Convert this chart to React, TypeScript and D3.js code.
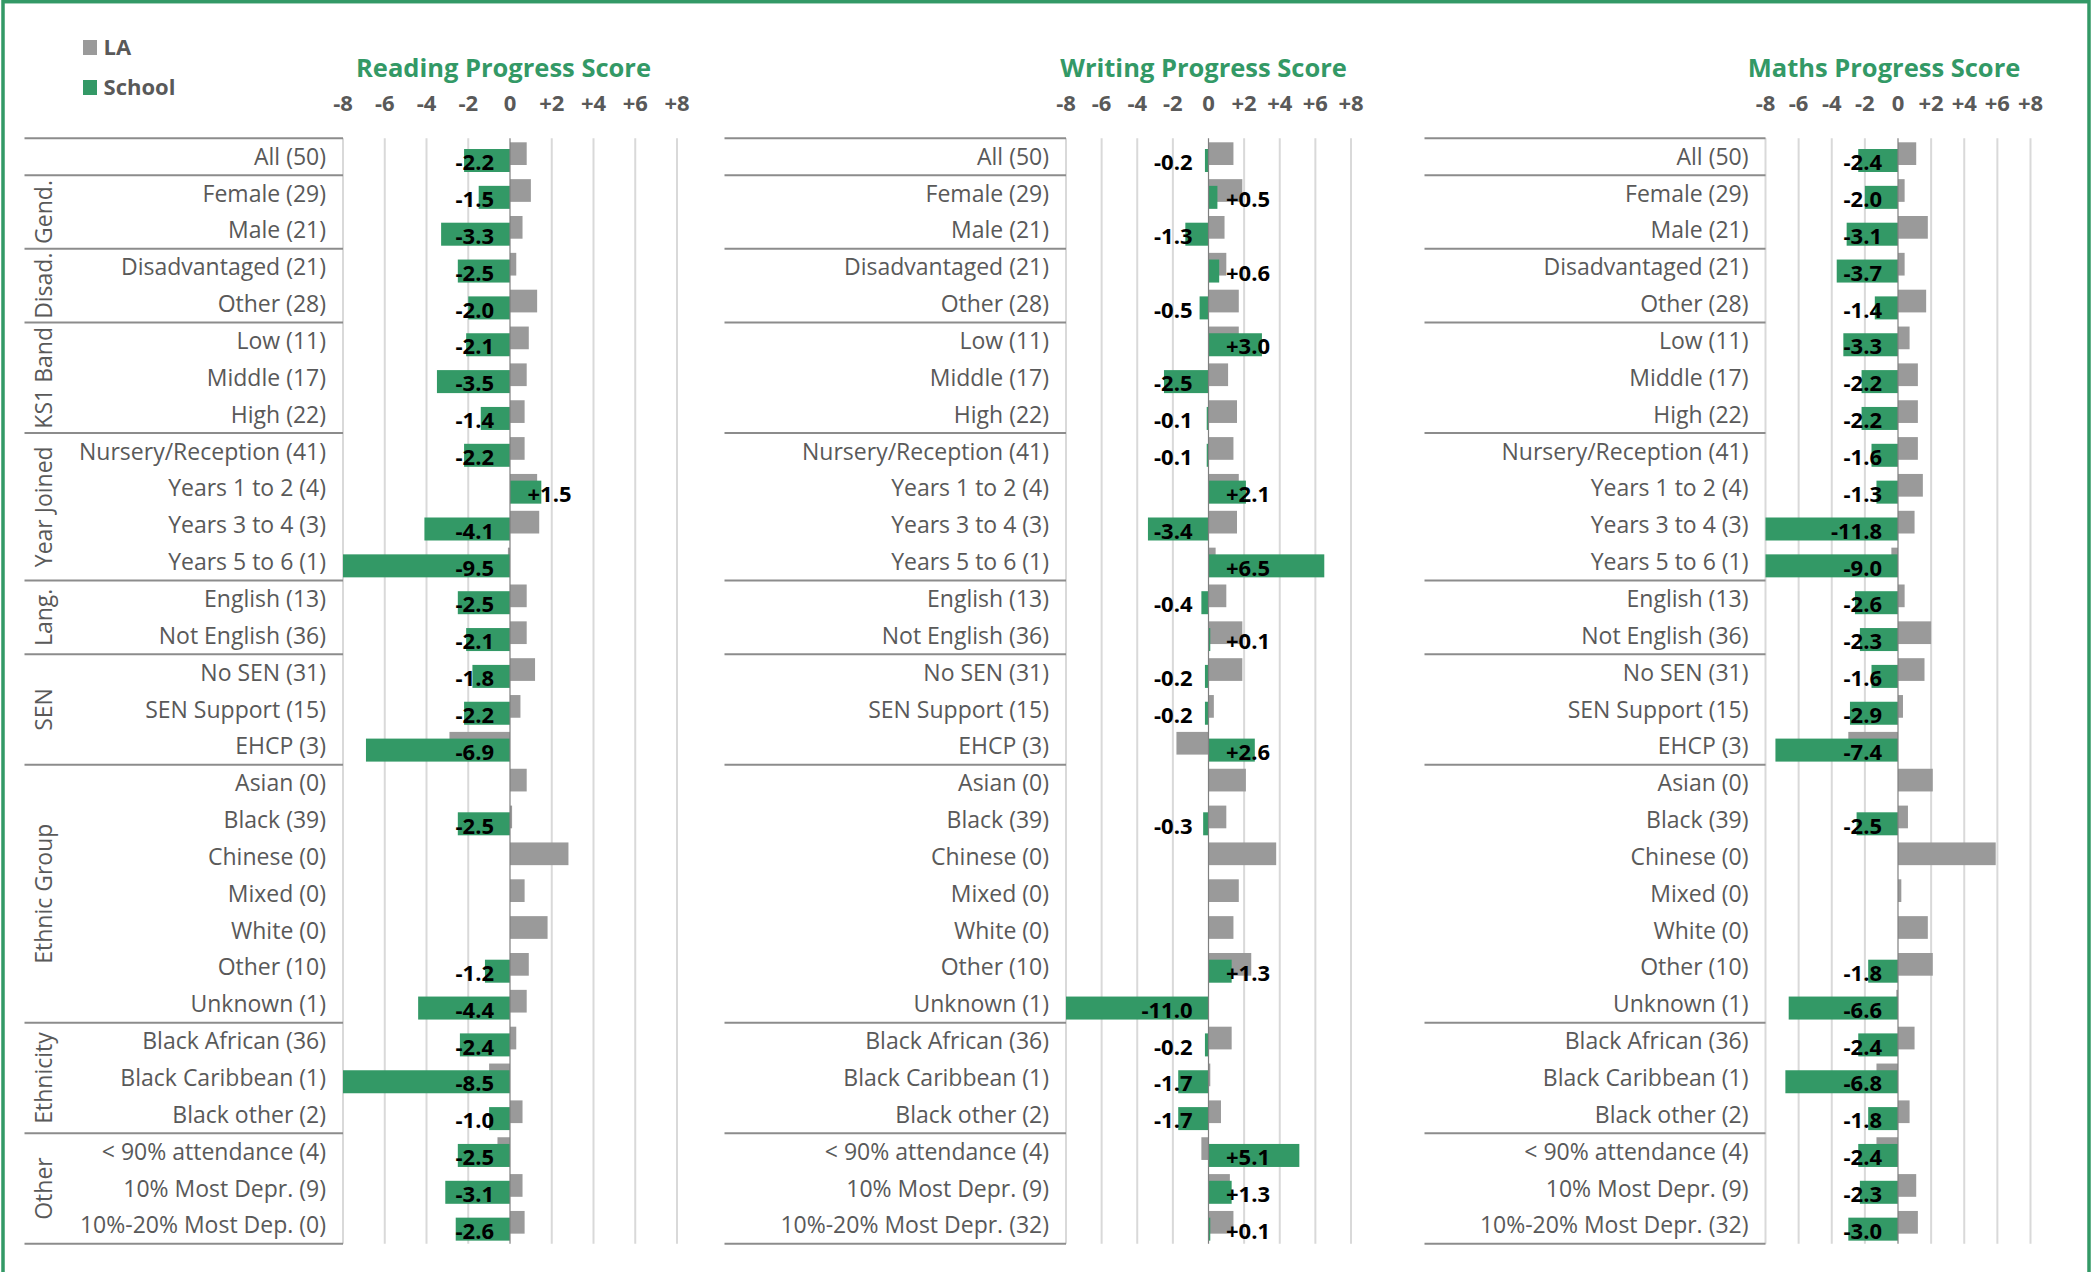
import React from "react";
import * as d3 from "d3";

// ---------- DATA ----------
const categoriesReading = [
  "All (50)", "Female (29)", "Male (21)", "Disadvantaged (21)", "Other (28)",
  "Low (11)", "Middle (17)", "High (22)", "Nursery/Reception (41)", "Years 1 to 2 (4)",
  "Years 3 to 4 (3)", "Years 5 to 6 (1)", "English (13)", "Not English (36)", "No SEN (31)",
  "SEN Support (15)", "EHCP (3)", "Asian (0)", "Black (39)", "Chinese (0)",
  "Mixed (0)", "White (0)", "Other (10)", "Unknown (1)", "Black African (36)",
  "Black Caribbean (1)", "Black other (2)", "< 90% attendance (4)", "10% Most Depr. (9)", "10%-20% Most Dep. (0)",
];
const categoriesWritingMaths = [
  "All (50)", "Female (29)", "Male (21)", "Disadvantaged (21)", "Other (28)",
  "Low (11)", "Middle (17)", "High (22)", "Nursery/Reception (41)", "Years 1 to 2 (4)",
  "Years 3 to 4 (3)", "Years 5 to 6 (1)", "English (13)", "Not English (36)", "No SEN (31)",
  "SEN Support (15)", "EHCP (3)", "Asian (0)", "Black (39)", "Chinese (0)",
  "Mixed (0)", "White (0)", "Other (10)", "Unknown (1)", "Black African (36)",
  "Black Caribbean (1)", "Black other (2)", "< 90% attendance (4)", "10% Most Depr. (9)", "10%-20% Most Depr. (32)",
];

const groupLabels = ["", "Gend.", "Disad.", "KS1 Band", "Year Joined", "Lang.", "SEN", "Ethnic Group", "Ethnicity", "Other"];
const groupSizes = [1, 2, 2, 3, 4, 2, 3, 7, 3, 3];

const readingSchool = [
  -2.2, -1.5, -3.3, -2.5, -2.0, -2.1, -3.5, -1.4, -2.2, 1.5,
  -4.1, -9.5, -2.5, -2.1, -1.8, -2.2, -6.9, null, -2.5, null,
  null, null, -1.2, -4.4, -2.4, -8.5, -1.0, -2.5, -3.1, -2.6,
];
const readingLA = [
  0.8, 1.0, 0.6, 0.3, 1.3, 0.9, 0.8, 0.7, 0.7, 1.3,
  1.4, -0.1, 0.8, 0.8, 1.2, 0.5, -2.9, 0.8, 0.1, 2.8,
  0.7, 1.8, 0.9, 0.8, 0.3, -1.0, 0.6, -0.6, 0.6, 0.7,
];
const writingSchool = [
  -0.2, 0.5, -1.3, 0.6, -0.5, 3.0, -2.5, -0.1, -0.1, 2.1,
  -3.4, 6.5, -0.4, 0.1, -0.2, -0.2, 2.6, null, -0.3, null,
  null, null, 1.3, -11.0, -0.2, -1.7, -1.7, 5.1, 1.3, 0.1,
];
const writingLA = [
  1.4, 1.9, 0.9, 1.0, 1.7, 1.7, 1.1, 1.6, 1.4, 1.7,
  1.6, 0.4, 1.0, 1.9, 1.9, 0.3, -1.8, 2.1, 1.0, 3.8,
  1.7, 1.4, 2.4, 0.0, 1.3, 0.1, 0.7, -0.4, 1.2, 1.4,
];
const mathsSchool = [
  -2.4, -2.0, -3.1, -3.7, -1.4, -3.3, -2.2, -2.2, -1.6, -1.3,
  -11.8, -9.0, -2.6, -2.3, -1.6, -2.9, -7.4, null, -2.5, null,
  null, null, -1.8, -6.6, -2.4, -6.8, -1.8, -2.4, -2.3, -3.0,
];
const mathsLA = [
  1.1, 0.4, 1.8, 0.4, 1.7, 0.7, 1.2, 1.2, 1.2, 1.5,
  1.0, -0.4, 0.4, 2.0, 1.6, 0.3, -3.0, 2.1, 0.6, 5.9,
  0.2, 1.8, 2.1, -0.1, 1.0, -1.3, 0.7, -1.3, 1.1, 1.2,
];

const tickValues = [-8, -6, -4, -2, 0, 2, 4, 6, 8];
const legendItems = ["LA", "School"];

// ---------- STYLE / LAYOUT ----------
const W = 2099;
const H = 1272;
const GREEN = "#339966";
const GRAY_BAR = "#9a9a9a";
const TEXT_GRAY = "#595959";
const FONT = "'Open Sans', 'Noto Sans', sans-serif";
const tableTop = 138.3;
const rowH = 36.85;
const nRows = 30;
const tableBottom = tableTop + rowH * nRows;

const panels = [
  { title: "Reading Progress Score", left: 0, chartLeft: 343, chartRight: 677, titleX: 503.5, cats: categoriesReading, school: readingSchool, la: readingLA, groups: true },
  { title: "Writing Progress Score", left: 700, chartLeft: 1066, chartRight: 1351, titleX: 1203.6, cats: categoriesWritingMaths, school: writingSchool, la: writingLA, groups: false },
  { title: "Maths Progress Score", left: 1400, chartLeft: 1765.5, chartRight: 2030.5, titleX: 1884, cats: categoriesWritingMaths, school: mathsSchool, la: mathsLA, groups: false },
];

const fmt = (v: number) => (v > 0 ? "+" + v.toFixed(1) : v.toFixed(1));
const tickFmt = (v: number) => (v > 0 ? "+" + v : String(v));

function Panel({ p, y }: { p: any; y: d3.ScaleBand<number> }) {
  const x = d3.scaleLinear().domain([-8, 8]).range([p.chartLeft, p.chartRight]).clamp(true);
  const x0 = x(0);
  const bounds: number[] = [0];
  let acc = 0;
  groupSizes.forEach((s) => { acc += s; bounds.push(acc); });
  const rowTop = (i: number) => y(i) as number;

  const catFs = 23;
  const valFs = 22;
  const titleFs = 25.5;
  return (
    <g>
      <text x={p.titleX} y={68 + 0.36 * titleFs} textAnchor="middle" fontFamily={FONT} fontWeight={700} fontSize={titleFs} fill={GREEN}>{p.title}</text>
      {tickValues.map((t) => (
        <text key={"t" + t} x={x(t)} y={103.3 + 0.36 * 22} textAnchor="middle" fontFamily={FONT} fontWeight={700} fontSize={22} fill={TEXT_GRAY}>{tickFmt(t)}</text>
      ))}
      {tickValues.filter((t) => t !== 0).map((t) => (
        <line key={"g" + t} x1={x(t)} x2={x(t)} y1={tableTop} y2={tableBottom} stroke="#d9d9d9" strokeWidth={2} />
      ))}
      {bounds.map((b) => {
        const yy = b === nRows ? tableBottom : rowTop(b);
        return <line key={"s" + b} x1={p.left + 24.5} x2={p.chartLeft} y1={yy} y2={yy} stroke="#8c8c8c" strokeWidth={2} />;
      })}
      {p.cats.map((c: string, i: number) => (
        <text key={"c" + i} x={p.chartLeft - 17} y={rowTop(i) + rowH / 2 + 0.35 * catFs} textAnchor="end" fontFamily={FONT} fontSize={catFs} fill={TEXT_GRAY}>{c}</text>
      ))}
      {p.groups && groupLabels.map((g, gi) => {
        if (!g) return null;
        const start = bounds[gi];
        const end = bounds[gi + 1];
        const cy = (rowTop(start) + (end === nRows ? tableBottom : rowTop(end))) / 2;
        return (
          <text key={"gl" + gi} transform={`translate(43.75,${cy}) rotate(-90)`} y={0.36 * 23} textAnchor="middle" fontFamily={FONT} fontSize={23} fill={TEXT_GRAY}>{g}</text>
        );
      })}
      {p.la.map((v: number | null, i: number) => v == null ? null : (
        <rect key={"la" + i} x={Math.min(x(v), x0)} width={Math.abs(x(v) - x0)} y={rowTop(i) + 4} height={22.7} fill={GRAY_BAR} />
      ))}
      {p.school.map((v: number | null, i: number) => v == null ? null : (
        <rect key={"sc" + i} x={Math.min(x(v), x0)} width={Math.abs(x(v) - x0)} y={rowTop(i) + 10.7} height={23} fill={GREEN} />
      ))}
      <line x1={x0} x2={x0} y1={tableTop} y2={tableBottom} stroke="#7f7f7f" strokeWidth={1.2} />
      {p.school.map((v: number | null, i: number) => v == null ? null : (
        <text key={"v" + i} x={v < 0 ? x0 - 16 : x0 + 17.5} y={rowTop(i) + 24 + 0.36 * valFs} textAnchor={v < 0 ? "end" : "start"} fontFamily={FONT} fontWeight={700} fontSize={valFs} fill="#000">{fmt(v)}</text>
      ))}
    </g>
  );
}

export default function App() {
  const y = d3.scaleBand<number>().domain(d3.range(nRows)).range([tableTop, tableBottom]).padding(0);
  const legendColors = [GRAY_BAR, GREEN];
  return (
    <div style={{ position: "absolute", left: 0, top: 0 }}>
      <svg width={W} height={H} style={{ display: "block", background: "#fff" }}>
        <rect x={0} y={0} width={W} height={H} fill="#fff" />
        <rect x={3} y={1.7} width={2086} height={1400} fill="none" stroke={GREEN} strokeWidth={3.5} />
        {legendItems.map((l, i) => (
          <g key={l}>
            <rect x={83} y={40 + i * 40} width={14} height={15} fill={legendColors[i]} />
            <text x={103.6} y={47 + i * 40 + 0.36 * 22} fontFamily={FONT} fontWeight={700} fontSize={22} fill={TEXT_GRAY}>{l}</text>
          </g>
        ))}
        {panels.map((p) => <Panel key={p.title} p={p} y={y} />)}
      </svg>
    </div>
  );
}
